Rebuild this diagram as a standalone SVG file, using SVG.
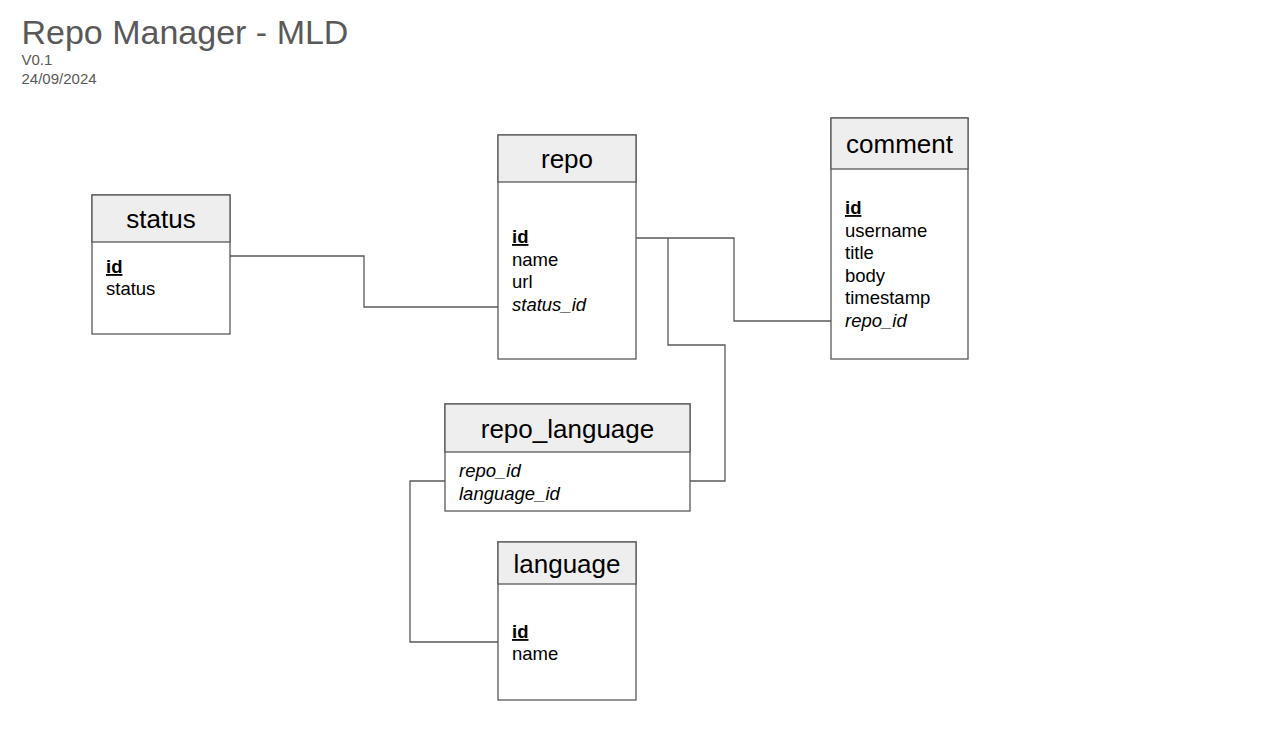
<svg xmlns="http://www.w3.org/2000/svg" width="1282" height="730" viewBox="0 0 1282 730">
<style>
  text { font-family: "Liberation Sans", Arial, sans-serif; }
  .box { fill: #ffffff; stroke: #595959; stroke-width: 1.3; }
  .head { fill: #eeeeee; stroke: #595959; stroke-width: 1.3; }
  .title { font-size: 26px; fill: #000; text-anchor: middle; }
  .f { font-size: 18.5px; fill: #000; }
  .pk { font-weight: bold; text-decoration: underline; }
  .fk { font-style: italic; }
  .conn { fill: none; stroke: #595959; stroke-width: 1.3; }
  .hdr { fill: #595959; }
</style>
<rect x="0" y="0" width="1282" height="730" fill="#ffffff"/>
<g id="header">
  <text class="hdr" x="21.5" y="44" font-size="34">Repo Manager - MLD</text>
  <text class="hdr" x="21.5" y="65" font-size="15">V0.1</text>
  <text class="hdr" x="21.5" y="84" font-size="15">24/09/2024</text>
</g>
<g id="connectors">
  <polyline class="conn" points="230,256 364,256 364,307 498,307"/>
  <polyline class="conn" points="636,238 734,238 734,321 831,321"/>
  <polyline class="conn" points="668,238 668,345 725,345 725,481 690,481"/>
  <polyline class="conn" points="445,481 410,481 410,642 498,642"/>
</g>
<g id="status">
  <rect class="box" x="92" y="195" width="138" height="139"/>
  <rect class="head" x="92" y="195" width="138" height="47"/>
  <text class="title" x="161" y="228">status</text>
  <text class="f pk" x="106" y="273">id</text>
  <text class="f" x="106" y="295">status</text>
</g>
<g id="repo">
  <rect class="box" x="498" y="135" width="138" height="224"/>
  <rect class="head" x="498" y="135" width="138" height="47"/>
  <text class="title" x="567" y="168">repo</text>
  <text class="f pk" x="512" y="243">id</text>
  <text class="f" x="512" y="266">name</text>
  <text class="f" x="512" y="288">url</text>
  <text class="f fk" x="512" y="311">status_id</text>
</g>
<g id="comment">
  <rect class="box" x="831" y="118" width="137" height="241"/>
  <rect class="head" x="831" y="118" width="137" height="51"/>
  <text class="title" x="899.5" y="153">comment</text>
  <text class="f pk" x="845" y="214">id</text>
  <text class="f" x="845" y="237">username</text>
  <text class="f" x="845" y="259">title</text>
  <text class="f" x="845" y="282">body</text>
  <text class="f" x="845" y="304">timestamp</text>
  <text class="f fk" x="845" y="327">repo_id</text>
</g>
<g id="repo_language">
  <rect class="box" x="445" y="404" width="245" height="107"/>
  <rect class="head" x="445" y="404" width="245" height="48"/>
  <text class="title" x="567.5" y="438">repo_language</text>
  <text class="f fk" x="459" y="477">repo_id</text>
  <text class="f fk" x="459" y="500">language_id</text>
</g>
<g id="language">
  <rect class="box" x="498" y="542" width="138" height="158"/>
  <rect class="head" x="498" y="542" width="138" height="42"/>
  <text class="title" x="567" y="573">language</text>
  <text class="f pk" x="512" y="638">id</text>
  <text class="f" x="512" y="660">name</text>
</g>
</svg>
